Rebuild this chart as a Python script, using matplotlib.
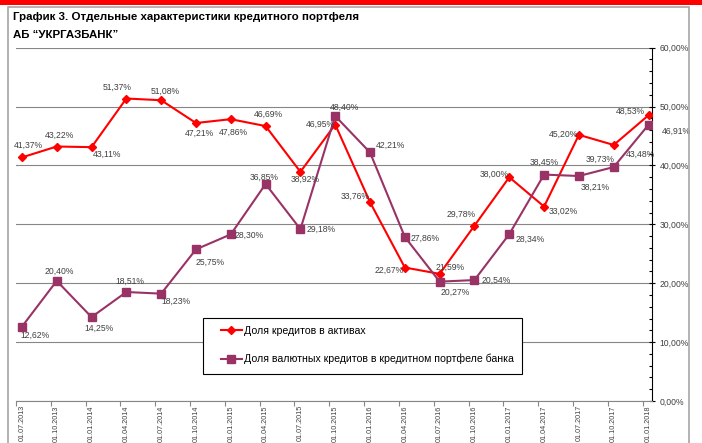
import numpy as np
import matplotlib.pyplot as plt
from matplotlib.patches import Rectangle
from matplotlib.ticker import MultipleLocator

plt.rcParams['font.family'] = ['Liberation Sans', 'DejaVu Sans']

# data
dates = ['01.07.2013', '01.10.2013', '01.01.2014', '01.04.2014', '01.07.2014',
         '01.10.2014', '01.01.2015', '01.04.2015', '01.07.2015', '01.10.2015',
         '01.01.2016', '01.04.2016', '01.07.2016', '01.10.2016', '01.01.2017',
         '01.04.2017', '01.07.2017', '01.10.2017', '01.01.2018']
loans_share = [41.37, 43.22, 43.11, 51.37, 51.08, 47.21, 47.86, 46.69, 38.92, 46.95,
               33.76, 22.67, 21.59, 29.78, 38.00, 33.02, 45.20, 43.48, 48.53]
fx_share = [12.62, 20.40, 14.25, 18.51, 18.23, 25.75, 28.30, 36.85, 29.18, 48.40,
            42.21, 27.86, 20.27, 20.54, 28.34, 38.45, 38.21, 39.73, 46.91]
series_names = ['Доля кредитов в активах',
                'Доля валютных кредитов в кредитном портфеле банка']
yticks = [0, 10, 20, 30, 40, 50, 60]
ytick_labels = ['0,00%', '10,00%', '20,00%', '30,00%', '40,00%', '50,00%', '60,00%']
title_lines = ['График 3. Отдельные характеристики кредитного портфеля',
               'АБ “УКРГАЗБАНК”']

# label offsets in pixels (dx, dy)
loans_off = [(6, 12), (3, 11), (15, -7), (-9, 11), (4, 9), (3, -10), (3, -13),
             (3, 12), (5, -7), (-15, 0), (-15, 6), (-16, -3), (10, 7), (-13, 11),
             (-15, 3), (19, -5), (-15, 1), (27, -9), (-18, 4)]
fx_off = [(13, -9), (3, 10), (7, -11), (3, 11), (15, -8), (14, -13), (18, -1),
          (-2, 7), (21, 0), (9, 9), (20, 7), (20, -1), (16, -11), (22, 0),
          (21, -5), (0, 12), (16, -11), (-14, 8), (28, -7)]

red = '#ff0000'
plum = '#993366'
txt = '#404040'
grid_c = '#868686'

W, H = 702, 443
fig = plt.figure(figsize=(W / 100, H / 100), dpi=100)

# frame and red strip
fig.add_artist(Rectangle((8 / W, -0.05), 681 / W, 436 / H + 0.05, transform=fig.transFigure,
                         fill=False, edgecolor='#a6a6a6', lw=1.2))
fig.add_artist(Rectangle((0, 1 - 5 / H), 1, 5 / H, transform=fig.transFigure,
                         facecolor=red, edgecolor='none'))

fig.text(13 / W, 1 - 17 / H, title_lines[0], fontsize=8.25, fontweight='bold', va='center')
fig.text(13 / W, 1 - 35 / H, title_lines[1], fontsize=8.25, fontweight='bold', va='center')

ax = fig.add_axes([16 / W, 42 / H, 636 / W, 353.3 / H])
x = np.arange(len(dates))

l1, = ax.plot(x, loans_share, color=red, lw=1.5, marker='D', ms=3.6, zorder=3)
l2, = ax.plot(x, fx_share, color=plum, lw=1.5, marker='s', ms=5.2, zorder=3)

for i, v in enumerate(loans_share):
    ax.annotate(f'{v:.2f}%'.replace('.', ','), (i, v), xytext=loans_off[i],
                textcoords='offset pixels', ha='center', va='center', fontsize=6.2,
                color=txt, zorder=6)
for i, v in enumerate(fx_share):
    ax.annotate(f'{v:.2f}%'.replace('.', ','), (i, v), xytext=fx_off[i],
                textcoords='offset pixels', ha='center', va='center', fontsize=6.2,
                color=txt, zorder=6)

ax.set_xlim(-0.165, 18.1)
ax.set_ylim(0, 60)

ax.spines['left'].set_visible(False)
ax.spines['top'].set_visible(False)
ax.spines['right'].set_color('black')
ax.spines['bottom'].set_color(grid_c)

ax.yaxis.tick_right()
ax.set_yticks(yticks, labels=ytick_labels)
ax.yaxis.set_minor_locator(MultipleLocator(2))
ax.tick_params(axis='y', which='major', direction='inout', length=5, width=0.8,
               labelsize=6.2, labelcolor=txt, pad=3)
ax.tick_params(axis='y', which='minor', direction='in', length=2.5, width=0.8)
ax.yaxis.grid(True, color=grid_c, lw=0.8)
ax.set_axisbelow(True)

ax.set_xticks(x, labels=dates)
ax.set_xticks(x - 0.17, minor=True)
ax.tick_params(axis='x', which='major', length=0, labelsize=5.2, labelcolor=txt,
               labelrotation=90, pad=3)
ax.tick_params(axis='x', which='minor', direction='out', length=3.5, width=0.8, color=grid_c)

# legend box
ax.add_patch(Rectangle((0.2945, 0.0764), 0.5016, 0.1577, transform=ax.transAxes,
                       facecolor='white', edgecolor='black', lw=0.8, zorder=4))
leg = ax.legend([l1, l2], series_names, loc='upper left', bbox_to_anchor=(0.3219, 0.2123),
                frameon=False, borderpad=0, borderaxespad=0, fontsize=7.6,
                labelspacing=1.7, handlelength=2.0, handletextpad=0.22)
leg.set_zorder(5)
for t in leg.get_texts():
    t.set_color('black')

fig.savefig('out.png', dpi=100)
